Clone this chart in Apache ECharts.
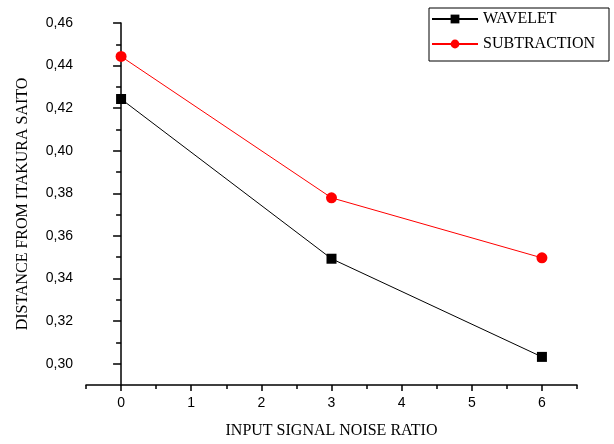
<!DOCTYPE html>
<html><head><meta charset="utf-8">
<script src="https://cdn.jsdelivr.net/npm/echarts@6/dist/echarts.min.js"></script>
<style>html,body{margin:0;padding:0;background:#fff}#c{width:614px;height:444px}</style>
</head><body><div id="c"></div>
<script>
const xValues = [0, 3, 6];
const wavelet = [0.4243, 0.3493, 0.3032];
const subtraction = [0.4443, 0.3779, 0.3497];
const xMajorTicks = [0,1,2,3,4,5,6];
const xMinorTicks = [-0.5,0.5,1.5,2.5,3.5,4.5,5.5,6.5];
const yMajorTicks = [0.30,0.32,0.34,0.36,0.38,0.40,0.42,0.44,0.46];
const yMinorTicks = [0.31,0.33,0.35,0.37,0.39,0.41,0.43,0.45];
const seriesNames = ['WAVELET', 'SUBTRACTION'];

const chart = echarts.init(document.getElementById('c'), null, {renderer:'canvas'});
const tickStyle = {color:'#000', width:1.5};
const titleStyle = {fontFamily:'Liberation Serif', fontSize:16, color:'#000'};
chart.setOption({
  animation:false,
  backgroundColor:'#fff',
  grid:{left:86, right:37, top:23, bottom:58},
  legend:{
    orient:'vertical', left:429, top:8,
    borderColor:'#000', borderWidth:1, padding:[3,14,9,2],
    itemWidth:46, itemHeight:11, itemGap:9,
    textStyle:{fontFamily:'Liberation Serif', fontSize:16, color:'#000'},
    data: seriesNames
  },
  xAxis:[{
    type:'value', min:-0.5, max:6.5,
    axisLine:{show:true, lineStyle:tickStyle}, splitLine:{show:false},
    axisTick:{show:true, customValues:xMajorTicks, length:6, lineStyle:tickStyle},
    axisLabel:{customValues:xMajorTicks, color:'#000', fontFamily:'Liberation Sans', fontSize:14, margin:11},
    name:'INPUT SIGNAL NOISE RATIO', nameLocation:'middle', nameGap:38,
    nameTextStyle:titleStyle
  },{
    type:'value', min:-0.5, max:6.5, position:'bottom',
    axisLine:{show:false}, splitLine:{show:false},
    axisTick:{show:true, customValues:xMinorTicks, length:4, lineStyle:tickStyle},
    axisLabel:{show:false}
  }],
  yAxis:[{
    type:'value', min:0.29, max:0.46,
    axisLine:{show:true, lineStyle:tickStyle}, splitLine:{show:false},
    axisTick:{show:true, customValues:yMajorTicks, length:8, lineStyle:tickStyle},
    axisLabel:{customValues:yMajorTicks, color:'#000', fontFamily:'Liberation Sans', fontSize:14, margin:13,
      formatter:v=>v.toFixed(2).replace('.',',')},
    name:'DISTANCE FROM ITAKURA SAITO', nameLocation:'middle', nameGap:55,
    nameTextStyle:titleStyle
  },{
    type:'value', min:0.29, max:0.46, position:'left',
    axisLine:{show:false}, splitLine:{show:false},
    axisTick:{show:true, customValues:yMinorTicks, length:5, lineStyle:tickStyle},
    axisLabel:{show:false}
  }],
  series:[
    {name:seriesNames[0], type:'line', data:xValues.map((x,i)=>[x,wavelet[i]]),
     symbol:'rect', symbolSize:10, itemStyle:{color:'#000'}, lineStyle:{color:'#000', width:1}},
    {name:seriesNames[1], type:'line', data:xValues.map((x,i)=>[x,subtraction[i]]),
     symbol:'circle', symbolSize:11, itemStyle:{color:'#f00'}, lineStyle:{color:'#f00', width:1}}
  ]
});
</script></body></html>
